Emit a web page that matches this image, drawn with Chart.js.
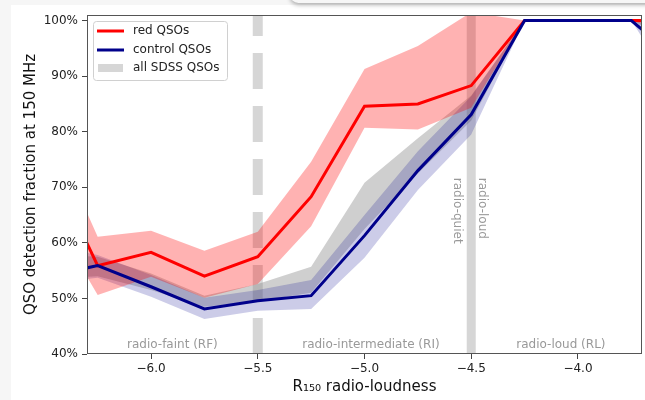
<!DOCTYPE html>
<html lang="en">
<head>
<meta charset="UTF-8">
<title>QSO detection fraction at 150 MHz</title>
<script src="https://cdn.jsdelivr.net/npm/chart.js"></script>
<style>
  body { margin: 0; width: 645px; height: 400px; overflow: hidden; position: relative; background: #f6f6f6; }
  #panel { position: absolute; left: 11px; top: 5px; width: 634px; height: 395px; background: #fff; }
  #shade { position: absolute; left: 290px; top: -14px; width: 380px; height: 17px; background: #f6f6f6; border-radius: 10px; box-shadow: 0 2px 4px rgba(0,0,0,0.3); }
  canvas { position: absolute; left: 0; top: 0; }
</style>
</head>
<body>
<div id="panel"></div>
<div id="shade"></div>
<canvas id="chart" width="645" height="400"></canvas>
<script>
// radio-loudness bins (first and last lie just outside the axis range)
const loudness = [-6.5, -6.25, -6.0, -5.75, -5.5, -5.25, -5.0, -4.75, -4.5, -4.25, -4.0, -3.75, -3.5];

// red QSOs (%)
const redMid  = [76.0, 55.9, 58.3, 54.0, 57.5, 68.3, 84.6, 85.0, 88.3, 100, 100, 100, 100];
const redHigh = [82.6, 61.1, 62.2, 58.6, 62.0, 74.6, 91.3, 95.4, 101.5, 100, 100, 100, 100];
const redLow  = [67.0, 50.6, 53.9, 50.1, 52.6, 63.0, 80.7, 80.4, 84.3, 100, 100, 100, 97];

// control QSOs (%)
const ctrlMid  = [53.9, 55.9, 52.1, 48.1, 49.6, 50.5, 61.3, 73.0, 83.1, 100, 100, 100, 92];
const ctrlHigh = [59.8, 57.8, 54.2, 50.1, 51.5, 53.3, 65.0, 76.5, 86.4, 100, 100, 100, 98];
const ctrlLow  = [52.7, 53.7, 50.3, 46.3, 47.8, 48.1, 57.3, 69.5, 79.5, 100, 100, 100, 85];

// all SDSS QSOs (%)
const sdssHigh = [58.0, 57.5, 54.5, 50.5, 52.6, 55.7, 70.8, 78.8, 86.5, 100, 100, 100, 99];
const sdssLow  = [53.5, 54.0, 51.5, 48.5, 49.5, 51.0, 62.5, 72.5, 82.0, 100, 100, 100, 95];

const seriesNames = ['red QSOs', 'control QSOs', 'all SDSS QSOs'];
const xTicks = [-6.0, -5.5, -5.0, -4.5, -4.0];
const yTicks = [40, 50, 60, 70, 80, 90, 100];
const regionNames = ['radio-faint (RF)', 'radio-intermediate (RI)', 'radio-loud (RL)'];
const regionCentres = [-5.9, -4.97, -4.08];

function pts(vals) {
    return loudness.map((x, i) => ({ x: x, y: vals[i] }));
}

const FONT = 'DejaVu Sans';
Chart.defaults.font.family = FONT;

const band = (vals, color, fill) => ({
    data: pts(vals), borderWidth: 0, pointRadius: 0, backgroundColor: color,
    fill: fill, clip: 0, tension: 0
});

// draws the vertical markers, region labels, legend and frame
const extras = {
    id: 'extras',
    beforeDatasetsDraw(chart) {
        const ctx = chart.ctx, xs = chart.scales.x, ys = chart.scales.y, a = chart.chartArea;
        ctx.save();
        ctx.beginPath();
        ctx.rect(a.left, a.top, a.right - a.left, a.bottom - a.top);
        ctx.clip();
        ctx.strokeStyle = 'rgba(200,200,200,0.75)';
        ctx.lineWidth = 10;
        ctx.setLineDash([36, 17]);
        ctx.beginPath();
        ctx.moveTo(xs.getPixelForValue(-5.5), a.bottom);
        ctx.lineTo(xs.getPixelForValue(-5.5), a.top);
        ctx.stroke();
        ctx.setLineDash([]);
        ctx.lineWidth = 9;
        ctx.beginPath();
        ctx.moveTo(xs.getPixelForValue(-4.5), a.bottom);
        ctx.lineTo(xs.getPixelForValue(-4.5), a.top);
        ctx.stroke();

        ctx.fillStyle = '#999';
        ctx.font = '12px ' + FONT;
        ctx.textAlign = 'center';
        ctx.textBaseline = 'middle';
        regionNames.forEach((t, i) => {
            ctx.fillText(t, xs.getPixelForValue(regionCentres[i]), ys.getPixelForValue(41.6));
        });
        ctx.textAlign = 'left';
        [['radio-quiet', -4.565], ['radio-loud', -4.449]].forEach(([t, v]) => {
            ctx.save();
            ctx.translate(xs.getPixelForValue(v), ys.getPixelForValue(71.7));
            ctx.rotate(Math.PI / 2);
            ctx.fillText(t, 0, 0);
            ctx.restore();
        });
        ctx.restore();
    },
    afterDraw(chart) {
        const ctx = chart.ctx, a = chart.chartArea;
        ctx.save();
        // frame
        ctx.strokeStyle = '#555';
        ctx.lineWidth = 1;
        ctx.strokeRect(a.left + 0.5, a.top + 0.5, a.right - a.left - 1, a.bottom - a.top - 1);

        // legend
        ctx.beginPath();
        ctx.roundRect(93.5, 21.5, 134, 59, 3);
        ctx.fillStyle = 'rgba(255,255,255,0.85)';
        ctx.fill();
        ctx.strokeStyle = '#d0d0d0';
        ctx.stroke();
        ctx.lineWidth = 3;
        ctx.strokeStyle = '#ff0000';
        ctx.beginPath(); ctx.moveTo(97, 31); ctx.lineTo(124, 31); ctx.stroke();
        ctx.strokeStyle = '#00008b';
        ctx.beginPath(); ctx.moveTo(97, 50); ctx.lineTo(124, 50); ctx.stroke();
        ctx.fillStyle = '#d6d6d6';
        ctx.fillRect(98, 64, 25, 8);
        ctx.fillStyle = '#222';
        ctx.font = '12px ' + FONT;
        ctx.textAlign = 'left';
        ctx.textBaseline = 'middle';
        seriesNames.forEach((t, i) => ctx.fillText(t, 133, [31, 50, 68][i]));
        ctx.restore();
    }
};

new Chart(document.getElementById('chart'), {
    type: 'line',
    data: {
        datasets: [
            { label: seriesNames[1], data: pts(ctrlMid), borderColor: '#00008b', borderWidth: 3, pointRadius: 0, fill: false, clip: 0, tension: 0 },
            { label: seriesNames[0], data: pts(redMid), borderColor: '#ff0000', borderWidth: 3, pointRadius: 0, fill: false, clip: 0, tension: 0 },
            band(redLow, 'rgba(0,0,0,0)', false),
            band(redHigh, 'rgba(255,0,0,0.3)', '-1'),
            band(ctrlLow, 'rgba(0,0,0,0)', false),
            band(ctrlHigh, 'rgba(0,0,139,0.2)', '-1'),
            band(sdssLow, 'rgba(0,0,0,0)', false),
            band(sdssHigh, 'rgba(128,128,128,0.38)', '-1')
        ]
    },
    options: {
        responsive: false,
        animation: false,
        layout: { padding: { left: 0, right: 3, top: 15, bottom: 0 } },
        plugins: { legend: { display: false }, tooltip: { enabled: false } },
        scales: {
            x: {
                type: 'linear', min: -6.3, max: -3.7,
                afterBuildTicks: s => { s.ticks = xTicks.map(v => ({ value: v })); },
                afterFit: s => { s.height = 46; },
                ticks: {
                    autoSkip: false, maxRotation: 0, padding: 3, color: '#222',
                    font: { size: 12 },
                    callback: v => (v < 0 ? '\u2212' : '') + Math.abs(v).toFixed(1)
                },
                grid: { drawOnChartArea: false, tickLength: 5, color: '#444' },
                border: { display: false },
                title: { display: true, text: 'R\u2081\u2085\u2080 radio-loudness', color: '#111', font: { size: 15 }, padding: { top: 0, bottom: 4 } }
            },
            y: {
                type: 'linear', min: 40, max: 101,
                afterBuildTicks: s => { s.ticks = yTicks.map(v => ({ value: v })); },
                afterFit: s => { s.width = 87; },
                ticks: { padding: 4, color: '#222', font: { size: 12 }, callback: v => v + '%' },
                grid: { drawOnChartArea: false, tickLength: 5, color: '#444' },
                border: { display: false },
                title: { display: true, text: 'QSO detection fraction at 150 MHz', color: '#111', font: { size: 15 }, padding: { top: 22, bottom: 0 } }
            }
        }
    },
    plugins: [extras]
});
</script>
</body>
</html>
